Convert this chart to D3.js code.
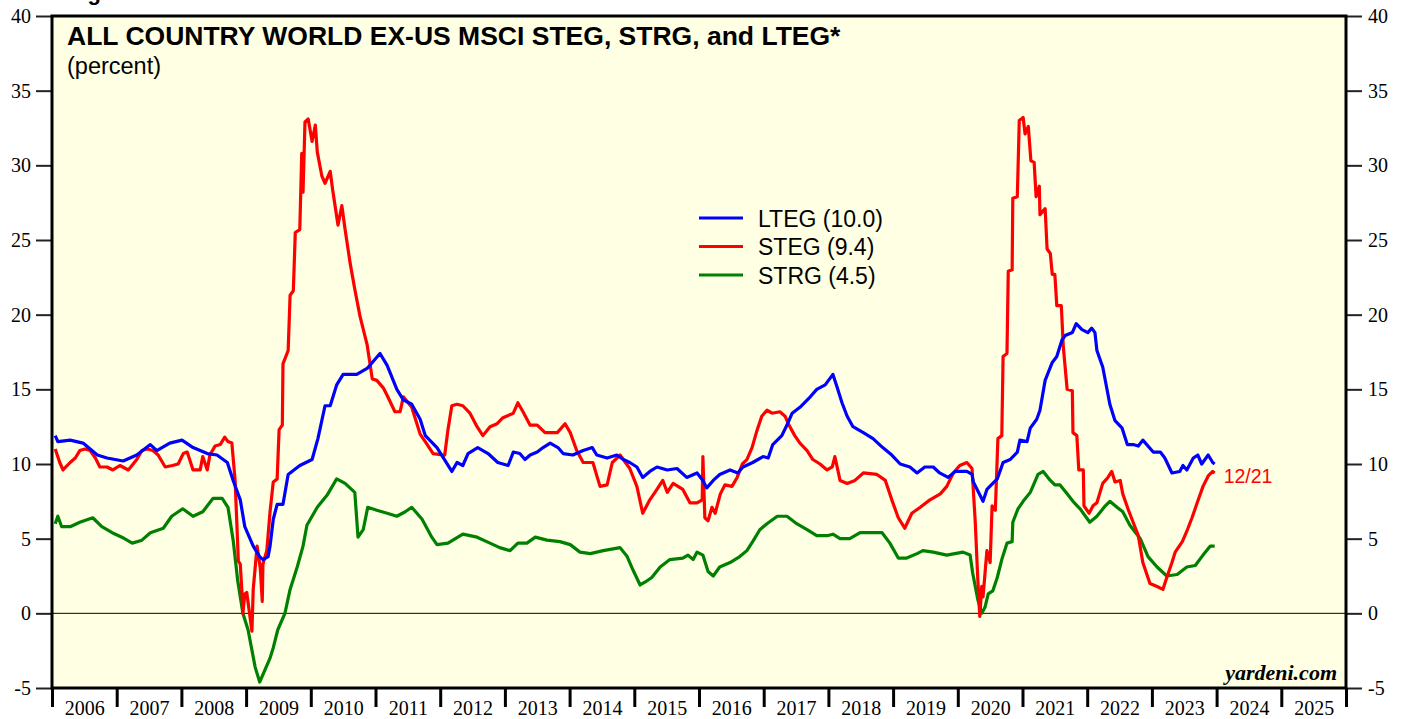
<!DOCTYPE html>
<html>
<head>
<meta charset="utf-8">
<style>
  body { margin: 0; background: #fff; }
  svg { display: block; }
  .tick text { font-family: "Liberation Serif", "Times New Roman", serif; font-size: 20px; fill: #000; }
</style>
<script src="https://cdnjs.cloudflare.com/ajax/libs/d3/7.8.5/d3.min.js"></script>
</head>
<body>
<svg></svg>
<script>

// decimal year, percent
var lteg = [[2006.05,11.9],[2006.09,11.5],[2006.28,11.6],[2006.48,11.4],[2006.70,10.6],[2006.85,10.4],[2007.10,10.2],[2007.31,10.6],[2007.52,11.3],[2007.62,10.9],[2007.82,11.4],[2008.01,11.6],[2008.18,11.1],[2008.40,10.7],[2008.55,10.6],[2008.71,10.1],[2008.80,8.9],[2008.91,7.6],[2008.98,5.8],[2009.11,4.5],[2009.21,3.8],[2009.26,3.6],[2009.34,3.8],[2009.37,4.5],[2009.42,6.3],[2009.48,7.3],[2009.57,7.3],[2009.65,9.3],[2009.83,9.9],[2010.02,10.3],[2010.11,11.7],[2010.22,13.9],[2010.30,13.9],[2010.40,15.3],[2010.50,16.0],[2010.71,16.0],[2010.87,16.4],[2011.07,17.4],[2011.18,16.6],[2011.33,15.0],[2011.43,14.3],[2011.56,14.0],[2011.69,13.0],[2011.77,11.9],[2011.95,11.1],[2012.18,9.5],[2012.26,10.1],[2012.35,9.9],[2012.43,10.7],[2012.58,11.1],[2012.74,10.7],[2012.89,10.1],[2013.05,9.9],[2013.13,10.8],[2013.23,10.7],[2013.31,10.3],[2013.39,10.6],[2013.50,10.8],[2013.59,11.1],[2013.70,11.4],[2013.82,11.1],[2013.90,10.7],[2014.05,10.6],[2014.21,10.9],[2014.35,11.1],[2014.42,10.6],[2014.58,10.4],[2014.73,10.6],[2014.83,10.3],[2014.93,10.1],[2015.04,9.8],[2015.13,9.1],[2015.24,9.5],[2015.35,9.8],[2015.51,9.6],[2015.66,9.7],[2015.81,9.1],[2015.97,9.4],[2016.06,8.9],[2016.12,8.4],[2016.22,8.9],[2016.32,9.3],[2016.48,9.6],[2016.60,9.4],[2016.68,9.8],[2016.83,10.1],[2016.99,10.5],[2017.07,10.4],[2017.14,11.3],[2017.28,11.9],[2017.38,12.8],[2017.44,13.4],[2017.56,13.8],[2017.72,14.5],[2017.82,15.0],[2017.95,15.3],[2018.07,16.0],[2018.13,15.2],[2018.21,14.1],[2018.29,13.2],[2018.38,12.5],[2018.54,12.1],[2018.69,11.7],[2018.84,11.1],[2018.98,10.6],[2019.11,10.0],[2019.26,9.8],[2019.37,9.4],[2019.49,9.8],[2019.62,9.8],[2019.72,9.4],[2019.85,9.1],[2019.96,9.5],[2020.14,9.5],[2020.22,9.3],[2020.24,8.8],[2020.39,7.5],[2020.45,8.3],[2020.61,9.0],[2020.70,10.1],[2020.81,10.3],[2020.92,10.8],[2020.96,11.6],[2021.07,11.5],[2021.12,12.4],[2021.22,13.0],[2021.27,13.6],[2021.35,15.6],[2021.46,16.8],[2021.53,17.2],[2021.61,18.3],[2021.66,18.6],[2021.77,18.8],[2021.83,19.4],[2021.92,19.0],[2022.01,18.8],[2022.07,19.1],[2022.12,18.8],[2022.15,17.6],[2022.24,16.5],[2022.35,14.0],[2022.43,12.9],[2022.54,12.4],[2022.62,11.3],[2022.71,11.3],[2022.79,11.2],[2022.86,11.6],[2023.02,10.8],[2023.13,10.8],[2023.20,10.4],[2023.31,9.4],[2023.43,9.5],[2023.48,9.9],[2023.54,9.6],[2023.64,10.4],[2023.71,10.6],[2023.77,10.0],[2023.87,10.6],[2023.94,10.1],[2023.97,10.0]];

var steg = [[2006.05,11.0],[2006.12,10.1],[2006.17,9.6],[2006.28,10.1],[2006.36,10.4],[2006.43,10.9],[2006.51,11.0],[2006.59,10.9],[2006.67,10.4],[2006.74,9.8],[2006.85,9.8],[2006.94,9.6],[2007.05,9.9],[2007.18,9.6],[2007.31,10.3],[2007.39,10.9],[2007.47,11.0],[2007.56,10.9],[2007.64,10.6],[2007.75,9.8],[2007.86,9.9],[2007.95,10.0],[2008.03,10.7],[2008.09,10.8],[2008.18,9.6],[2008.29,9.6],[2008.33,10.5],[2008.40,9.6],[2008.44,10.6],[2008.52,11.2],[2008.60,11.3],[2008.67,11.8],[2008.72,11.5],[2008.78,11.4],[2008.83,8.9],[2008.86,5.7],[2008.88,3.5],[2008.91,3.3],[2008.94,1.1],[2008.95,0.0],[2008.98,1.3],[2009.01,1.4],[2009.09,-1.2],[2009.11,1.6],[2009.17,4.5],[2009.22,3.0],[2009.25,0.8],[2009.26,3.3],[2009.32,4.2],[2009.37,6.8],[2009.42,8.8],[2009.48,9.0],[2009.51,12.3],[2009.56,12.6],[2009.57,16.7],[2009.65,17.6],[2009.68,21.3],[2009.73,21.6],[2009.76,25.5],[2009.83,25.7],[2009.86,30.8],[2009.88,28.2],[2009.91,32.9],[2009.96,33.1],[2010.02,31.6],[2010.07,32.7],[2010.10,30.9],[2010.17,29.3],[2010.22,28.8],[2010.30,29.6],[2010.34,28.3],[2010.42,26.0],[2010.48,27.3],[2010.53,25.7],[2010.61,23.4],[2010.68,21.7],[2010.76,19.9],[2010.87,18.0],[2010.95,15.7],[2011.02,15.6],[2011.12,15.1],[2011.19,14.5],[2011.30,13.5],[2011.38,13.5],[2011.43,14.5],[2011.56,13.8],[2011.69,12.0],[2011.80,11.3],[2011.89,10.7],[2012.04,10.6],[2012.07,10.6],[2012.12,12.3],[2012.18,13.9],[2012.26,14.0],[2012.35,13.9],[2012.46,13.4],[2012.57,12.5],[2012.66,11.9],[2012.77,12.5],[2012.88,12.7],[2012.97,13.1],[2013.13,13.4],[2013.20,14.1],[2013.28,13.5],[2013.39,12.6],[2013.50,12.6],[2013.62,12.1],[2013.81,12.1],[2013.93,12.7],[2014.01,12.1],[2014.11,10.9],[2014.21,10.1],[2014.36,10.1],[2014.47,8.5],[2014.58,8.6],[2014.66,10.1],[2014.78,10.6],[2014.93,9.7],[2015.04,8.5],[2015.13,6.7],[2015.24,7.6],[2015.35,8.3],[2015.44,8.9],[2015.51,8.1],[2015.60,8.7],[2015.75,8.3],[2015.86,7.4],[2015.97,7.4],[2016.05,7.6],[2016.06,10.5],[2016.09,6.4],[2016.14,6.2],[2016.20,7.1],[2016.25,6.7],[2016.33,8.0],[2016.40,8.6],[2016.51,8.5],[2016.59,9.1],[2016.67,10.0],[2016.74,10.3],[2016.82,11.1],[2016.90,12.3],[2016.97,13.2],[2017.05,13.6],[2017.13,13.4],[2017.25,13.5],[2017.33,13.2],[2017.38,12.7],[2017.48,11.9],[2017.56,11.4],[2017.67,10.9],[2017.76,10.3],[2017.87,10.0],[2017.98,9.6],[2018.06,9.8],[2018.10,10.5],[2018.18,8.9],[2018.29,8.7],[2018.41,8.9],[2018.54,9.4],[2018.75,9.3],[2018.88,8.9],[2018.98,7.6],[2019.08,6.4],[2019.18,5.7],[2019.29,6.7],[2019.42,7.1],[2019.57,7.6],[2019.73,8.0],[2019.83,8.5],[2019.93,9.4],[2020.03,9.9],[2020.14,10.1],[2020.22,9.7],[2020.27,6.1],[2020.31,2.2],[2020.34,-0.2],[2020.37,1.8],[2020.39,1.1],[2020.45,4.2],[2020.50,3.4],[2020.53,7.2],[2020.58,6.9],[2020.62,11.7],[2020.68,11.9],[2020.70,17.2],[2020.76,17.4],[2020.78,22.9],[2020.84,23.0],[2020.85,27.8],[2020.92,27.9],[2020.95,33.0],[2021.01,33.2],[2021.04,32.1],[2021.09,32.6],[2021.13,30.3],[2021.18,30.2],[2021.21,27.9],[2021.26,28.6],[2021.27,26.7],[2021.35,27.1],[2021.38,24.4],[2021.43,24.1],[2021.46,22.7],[2021.50,22.7],[2021.53,20.6],[2021.60,20.6],[2021.63,17.9],[2021.69,15.0],[2021.77,14.9],[2021.78,12.1],[2021.84,11.9],[2021.87,9.6],[2021.94,9.6],[2021.95,7.2],[2022.03,6.7],[2022.09,7.2],[2022.15,7.4],[2022.24,8.7],[2022.32,9.1],[2022.38,9.5],[2022.43,8.8],[2022.51,8.9],[2022.55,8.0],[2022.63,7.0],[2022.71,6.1],[2022.79,5.2],[2022.86,3.4],[2022.97,2.0],[2023.08,1.8],[2023.17,1.6],[2023.23,2.4],[2023.31,3.4],[2023.36,4.1],[2023.47,4.8],[2023.54,5.5],[2023.62,6.4],[2023.70,7.4],[2023.79,8.5],[2023.87,9.2],[2023.94,9.5],[2023.97,9.4]];

var strg = [[2006.05,6.0],[2006.09,6.5],[2006.15,5.8],[2006.28,5.8],[2006.43,6.1],[2006.63,6.4],[2006.77,5.8],[2006.93,5.4],[2007.08,5.1],[2007.24,4.7],[2007.39,4.9],[2007.52,5.4],[2007.72,5.7],[2007.85,6.5],[2008.02,7.0],[2008.18,6.5],[2008.33,6.8],[2008.49,7.7],[2008.63,7.7],[2008.72,7.1],[2008.80,4.9],[2008.87,2.2],[2008.95,0.0],[2009.03,-1.1],[2009.14,-3.6],[2009.21,-4.6],[2009.29,-3.8],[2009.37,-3.0],[2009.42,-2.3],[2009.49,-1.1],[2009.60,0.0],[2009.68,1.6],[2009.79,3.1],[2009.88,4.5],[2009.94,5.9],[2010.10,7.1],[2010.25,7.9],[2010.40,9.0],[2010.53,8.7],[2010.68,8.1],[2010.73,5.1],[2010.81,5.6],[2010.88,7.1],[2011.02,6.9],[2011.18,6.7],[2011.33,6.5],[2011.46,6.8],[2011.56,7.1],[2011.72,6.3],[2011.87,5.1],[2011.95,4.6],[2012.12,4.7],[2012.35,5.3],[2012.57,5.1],[2012.77,4.7],[2012.92,4.4],[2013.08,4.2],[2013.20,4.7],[2013.34,4.7],[2013.47,5.1],[2013.65,4.9],[2013.85,4.8],[2014.01,4.6],[2014.16,4.1],[2014.32,4.0],[2014.52,4.2],[2014.78,4.4],[2014.89,3.8],[2014.98,2.9],[2015.09,1.9],[2015.17,2.1],[2015.27,2.4],[2015.40,3.1],[2015.55,3.6],[2015.75,3.7],[2015.83,3.9],[2015.91,3.6],[2015.97,4.1],[2016.06,3.9],[2016.14,2.8],[2016.22,2.5],[2016.32,3.1],[2016.48,3.4],[2016.63,3.8],[2016.74,4.2],[2016.83,4.8],[2016.94,5.6],[2017.05,6.0],[2017.21,6.5],[2017.36,6.5],[2017.51,6.0],[2017.67,5.6],[2017.82,5.2],[2017.98,5.2],[2018.07,5.3],[2018.18,5.0],[2018.33,5.0],[2018.49,5.4],[2018.64,5.4],[2018.83,5.4],[2018.95,4.7],[2019.08,3.7],[2019.21,3.7],[2019.37,4.0],[2019.46,4.2],[2019.62,4.1],[2019.83,3.9],[2020.08,4.1],[2020.19,3.9],[2020.23,2.7],[2020.31,0.9],[2020.37,0.0],[2020.42,0.4],[2020.47,1.3],[2020.54,1.5],[2020.61,2.4],[2020.68,3.6],[2020.76,4.7],[2020.84,4.8],[2020.85,6.1],[2020.93,7.0],[2021.01,7.5],[2021.12,8.1],[2021.24,9.3],[2021.32,9.5],[2021.43,8.9],[2021.50,8.6],[2021.58,8.6],[2021.69,8.0],[2021.78,7.5],[2021.89,7.0],[2022.04,6.1],[2022.15,6.5],[2022.28,7.2],[2022.35,7.5],[2022.46,7.1],[2022.55,6.8],[2022.66,5.9],[2022.82,5.0],[2022.94,3.8],[2023.08,3.1],[2023.23,2.5],[2023.39,2.6],[2023.54,3.1],[2023.67,3.2],[2023.79,3.9],[2023.90,4.5],[2023.97,4.5]];

var years = d3.range(2006, 2026);
var yTicks = d3.range(-5, 41, 5);
var legendItems = [
  { name: "LTEG (10.0)", color: "#0000ff", data: lteg },
  { name: "STEG (9.4)", color: "#ff0000", data: steg },
  { name: "STRG (4.5)", color: "#008000", data: strg }
];

var W = 1407,
    H = 719,
    pL = 52, pR = 1346, pT = 16, pB = 688,
    svg = d3.select("svg").attr("width", W).attr("height", H);

var x = d3.scaleLinear().domain([2006, 2026]).range([pL, pR]),
    y = d3.scaleLinear().domain([-5, 40]).range([pB, pT]);

// partly cut off figure caption at the very top
svg.append("text")
    .attr("x", 68).attr("y", 0)
    .style("font", "bold 22px 'Liberation Sans', Arial, sans-serif")
    .text("Figure");

svg.append("rect")
    .attr("x", pL).attr("y", pT)
    .attr("width", pR - pL).attr("height", pB - pT)
    .attr("fill", "#ffffe3");

svg.append("clipPath").attr("id", "clip")
  .append("rect")
    .attr("x", pL).attr("y", pT)
    .attr("width", pR - pL).attr("height", pB - pT);

// axes
var fmt = d => String(d);
var axL = svg.append("g")
    .attr("transform", "translate(" + pL + ",0)")
    .call(d3.axisLeft(y).tickValues(yTicks).tickSize(16).tickPadding(5).tickFormat(fmt));
var axR = svg.append("g")
    .attr("transform", "translate(" + pR + ",0)")
    .call(d3.axisRight(y).tickValues(yTicks).tickSize(16).tickPadding(6).tickFormat(fmt));
var axB = svg.append("g")
    .attr("transform", "translate(0," + pB + ")")
    .call(d3.axisBottom(x).tickValues(d3.range(2006, 2027)).tickSize(19).tickFormat(""));
var axB2 = svg.append("g")
    .attr("transform", "translate(0," + pB + ")")
    .call(d3.axisBottom(x).tickValues(years.map(d => d + 0.5)).tickSize(0).tickPadding(13)
      .tickFormat(d => Math.floor(d)));

[axL, axR, axB, axB2].forEach(a => a.select(".domain").remove());
axL.selectAll("line").attr("stroke", "#222").attr("stroke-width", 2);
axR.selectAll("line").attr("stroke", "#222").attr("stroke-width", 2);
axB.selectAll("line").attr("stroke", "#000").attr("stroke-width", 3);

// zero line
svg.append("line")
    .attr("x1", pL).attr("x2", pR)
    .attr("y1", y(0)).attr("y2", y(0))
    .attr("stroke", "#000").attr("stroke-width", 1);

var line = d3.line().x(d => x(d[0])).y(d => y(d[1]));

var plot = svg.append("g").attr("clip-path", "url(#clip)");
legendItems.slice().reverse().forEach(s => {
  plot.append("path")
      .datum(s.data)
      .attr("fill", "none")
      .attr("stroke", s.color)
      .attr("stroke-width", 3.2)
      .attr("stroke-linejoin", "round")
      .attr("d", line);
});

// frame
svg.append("rect")
    .attr("x", pL).attr("y", pT)
    .attr("width", pR - pL).attr("height", pB - pT)
    .attr("fill", "none").attr("stroke", "#000").attr("stroke-width", 3);

// title
svg.append("text")
    .attr("x", 67).attr("y", 45)
    .style("font", "bold 26.5px 'Liberation Sans', Arial, sans-serif")
    .text("ALL COUNTRY WORLD EX-US MSCI STEG, STRG, and LTEG*");
svg.append("text")
    .attr("x", 67).attr("y", 74)
    .style("font", "23.5px 'Liberation Sans', Arial, sans-serif")
    .text("(percent)");

// legend
var lg = svg.append("g").attr("transform", "translate(699,218)");
legendItems.forEach((s, i) => {
  lg.append("line")
      .attr("x1", 0).attr("x2", 44)
      .attr("y1", i * 28.5).attr("y2", i * 28.5)
      .attr("stroke", s.color).attr("stroke-width", 3.2);
  lg.append("text")
      .attr("x", 59).attr("y", i * 28.5 + 8.5)
      .style("font", "23px 'Liberation Sans', Arial, sans-serif")
      .text(s.name);
});

// last date label
var last = steg[steg.length - 1];
svg.append("text")
    .attr("x", x(last[0]) + 9)
    .attr("y", y(last[1]) + 10)
    .attr("fill", "#ff0000")
    .style("font", "19.5px 'Liberation Sans', Arial, sans-serif")
    .text("12/21");

svg.append("text")
    .attr("x", 1337).attr("y", 680)
    .attr("text-anchor", "end")
    .style("font", "italic bold 22px 'Liberation Serif', 'Times New Roman', serif")
    .text("yardeni.com");

</script>
</body>
</html>
